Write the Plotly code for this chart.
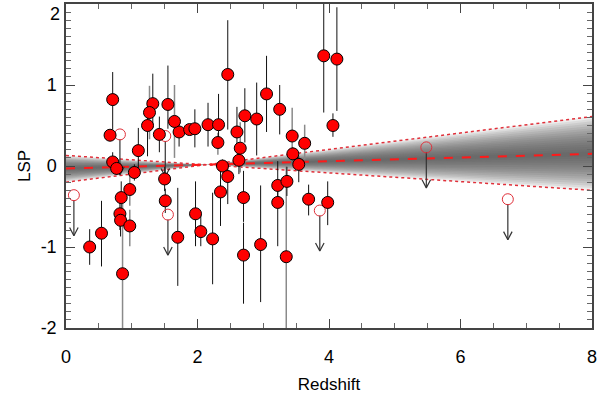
import numpy as np
import plotly.graph_objects as go

# detections with black error bars
z_det = [0.36, 0.54, 0.67, 0.71, 0.71, 0.77, 0.84, 0.82, 0.83, 1.04, 1.10, 1.24, 1.32, 1.42,
         1.50, 1.51, 1.55, 1.70, 1.72, 1.88, 1.96, 1.97, 2.05, 2.16, 2.23, 2.32, 2.35, 2.38,
         2.46, 2.46, 2.60, 2.63, 2.70, 2.70, 2.72, 2.90, 2.96, 3.05, 3.22, 3.22, 3.25, 3.36,
         3.45, 3.54, 3.69, 3.92, 3.98, 4.06, 4.12]
lsp_det = [-1.00, -0.83, 0.38, 0.82, 0.05, -0.03, -0.39, -0.59, -0.67, -0.08, 0.19, 0.50, 0.77, 0.39,
           -0.16, -0.43, 0.76, -0.88, 0.42, 0.45, 0.46, -0.59, -0.81, 0.51, -0.90, 0.51, -0.32, 0.00,
           1.13, -0.13, 0.42, 0.07, -0.39, -1.10, 0.62, 0.58, -0.97, 0.89, -0.24, -0.45, 0.70, -0.19,
           0.15, 0.02, -0.41, 1.36, -0.45, 0.50, 1.32]
err_up = [0.22, 0.40, 0.05, 0.34, 0.12, 0.08, 0.20, 0.15, 0.10, 0.10, 0.28, 0.31, 0.37, 0.22,
          0.15, 0.15, 0.48, 0.61, 0.10, 0.05, 0.24, 0.40, 0.21, 0.27, 0.57, 0.38, 0.32, 0.08,
          0.67, 0.13, 0.31, 0.10, 0.33, 0.40, 0.34, 0.45, 0.73, 0.47, 0.30, 0.20, 0.30, 0.18,
          0.08, 0.10, 0.18, 0.80, 0.26, 0.15, 0.64]
err_down = [0.22, 0.41, 0.05, 0.37, 0.08, 0.08, 0.20, 0.20, 0.20, 0.10, 0.25, 0.38, 0.30, 0.22,
            0.15, 0.15, 0.30, 0.60, 0.18, 0.05, 0.23, 0.40, 0.18, 0.27, 0.56, 0.22, 0.42, 0.08,
            0.68, 0.34, 0.22, 0.17, 0.30, 0.60, 0.33, 0.45, 0.71, 0.47, 0.20, 0.54, 0.31, 0.18,
            0.08, 0.22, 0.20, 0.70, 0.28, 0.14, 0.64]

# detections with grey error bars
z_det_g = [0.86, 0.97, 0.97, 1.27, 1.65, 2.31, 2.65, 3.35, 3.44, 3.63]
lsp_det_g = [-1.33, -0.29, -0.74, 0.66, 0.55, 0.29, 0.22, -1.12, 0.37, 0.28]
err_up_g = [0.90, 0.25, 0.20, 0.33, 0.45, 0.12, 0.32, 1.12, 0.35, 0.23]
err_down_g = [1.00, 0.20, 0.25, 0.33, 0.45, 0.15, 0.30, 1.10, 0.30, 0.20]

# upper limits (open circles)
z_lim = [0.12, 0.82, 1.51, 1.55, 3.86, 5.48, 6.72]
lsp_lim = [-0.36, 0.39, 0.37, -0.60, -0.55, 0.23, -0.41]
lim_len = 0.5

# fit line and the two bounding lines, at z = 0 and z = 8
fit_z = [0.0, 8.0]
fit_lsp = [-0.03, 0.15]
bound_a = [0.13, -0.30]
bound_b = [-0.20, 0.61]

y_ticks = [-2, -1, 0, 1]
y_ticktext = ["-2", "-1", "0", "1"]
y_top_label = "2"

fig = go.Figure()

# shaded band, darker towards the fit line
slope_a = (bound_a[1] - bound_a[0]) / (fit_z[1] - fit_z[0])
slope_b = (bound_b[1] - bound_b[0]) / (fit_z[1] - fit_z[0])
z_piv = (bound_b[0] - bound_a[0]) / (slope_a - slope_b)
zz = np.array([fit_z[0], z_piv, fit_z[1]])
ya = np.interp(zz, fit_z, bound_a)
yb = np.interp(zz, fit_z, bound_b)
yf = np.interp(zz, fit_z, fit_lsp)
upper = np.maximum(ya, yb)
lower = np.minimum(ya, yb)
n_layers = 16
for k in range(n_layers, 0, -1):
    f = k / n_layers
    top = yf + f * (upper - yf)
    bot = yf + f * (lower - yf)
    fig.add_trace(go.Scatter(
        x=np.concatenate([zz, zz[::-1]]),
        y=np.concatenate([top, bot[::-1]]),
        fill="toself", fillcolor="rgba(80,80,80,0.10)",
        line=dict(width=0), mode="lines", hoverinfo="skip", showlegend=False,
    ))

for yb_line in (bound_a, bound_b):
    fig.add_trace(go.Scatter(
        x=fit_z, y=yb_line, mode="lines",
        line=dict(color="#e0303a", width=1.5, dash="dot"),
        hoverinfo="skip", showlegend=False,
    ))

fig.add_trace(go.Scatter(
    x=fit_z, y=fit_lsp, mode="lines",
    line=dict(color="#ff1a1a", width=2, dash="dash"),
    hoverinfo="skip", showlegend=False,
))

# error bars
fig.add_trace(go.Scatter(
    x=z_det_g, y=lsp_det_g, mode="markers",
    marker=dict(size=1, color="rgba(0,0,0,0)"),
    error_y=dict(type="data", symmetric=False, array=err_up_g, arrayminus=err_down_g,
                 color="#8a8a8a", thickness=1.5, width=0),
    showlegend=False,
))
fig.add_trace(go.Scatter(
    x=z_det, y=lsp_det, mode="markers",
    marker=dict(size=1, color="rgba(0,0,0,0)"),
    error_y=dict(type="data", symmetric=False, array=err_up, arrayminus=err_down,
                 color="#111111", thickness=1, width=0),
    showlegend=False,
))

# upper-limit arrows: shaft plus open V head
head_dz, head_dy = 0.065, 0.1
ax_x, ax_y = [], []
for zl, yl in zip(z_lim, lsp_lim):
    tip = yl - lim_len
    ax_x += [zl, zl, None, zl - head_dz, zl, zl + head_dz, None]
    ax_y += [yl - 0.06, tip, None, tip + head_dy, tip, tip + head_dy, None]
fig.add_trace(go.Scatter(
    x=ax_x, y=ax_y, mode="lines",
    line=dict(color="#333333", width=1.2),
    hoverinfo="skip", showlegend=False,
))

fig.add_trace(go.Scatter(
    x=z_lim, y=lsp_lim, mode="markers",
    marker=dict(symbol="circle-open", size=11, color="#e0303a", line=dict(width=1)),
    showlegend=False,
))

fig.add_trace(go.Scatter(
    x=z_det + z_det_g, y=lsp_det + lsp_det_g, mode="markers",
    marker=dict(size=12, color="#ff0000", line=dict(color="black", width=1)),
    showlegend=False,
))

axis_font = dict(family="Liberation Sans, Arial, sans-serif", size=18, color="black")

# top y label sits just under the frame, as in the original
fig.add_annotation(
    x=0, y=2, xref="paper", yref="y", text=y_top_label, showarrow=False,
    xanchor="right", yanchor="top", xshift=-4, yshift=2, font=axis_font,
)

fig.update_layout(
    width=600, height=397,
    margin=dict(l=66, r=8, t=4, b=69),
    plot_bgcolor="white", paper_bgcolor="white",
    font=axis_font,
    showlegend=False,
)
fig.update_xaxes(
    range=[0, 8], tickvals=[0, 2, 4, 6, 8],
    ticks="inside", ticklen=9, tickcolor="#444", tickwidth=1,
    minor=dict(dtick=0.5, ticks="inside", ticklen=5, tickcolor="#666"),
    showline=True, linecolor="#444", linewidth=1.5, mirror="allticks",
    showgrid=False, zeroline=False, automargin=False,
    ticklabelstandoff=12,
    title=dict(text="Redshift", font=dict(size=17), standoff=12),
)
fig.update_yaxes(
    range=[-2, 2], tickvals=y_ticks, ticktext=y_ticktext,
    ticks="inside", ticklen=9, tickcolor="#444", tickwidth=1,
    minor=dict(dtick=0.1, ticks="inside", ticklen=5, tickcolor="#666"),
    showline=True, linecolor="#444", linewidth=1.5, mirror="allticks",
    showgrid=False, zeroline=False, automargin=False,
    ticklabelstandoff=4,
    title=dict(text="LSP", font=dict(size=17), standoff=6),
)

fig.write_html(
    "out.html",
    config={"displayModeBar": False},
    post_script="document.body.style.margin='0';",
)
